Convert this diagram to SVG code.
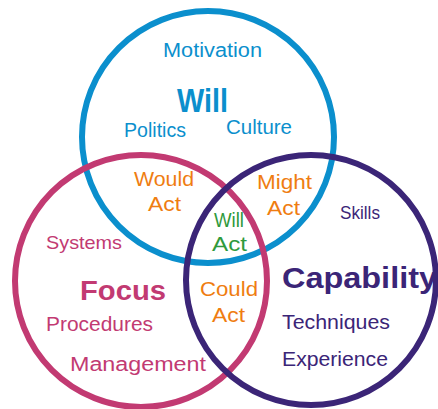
<svg xmlns="http://www.w3.org/2000/svg" width="438" height="409" viewBox="0 0 438 409">
<style>
.ring{fill:none;stroke-width:6}
.t{font-family:"Liberation Sans",Arial,sans-serif;font-size:20px}
.b{font-family:"Liberation Sans",Arial,sans-serif;font-weight:bold}
.blue{fill:#0b8fcd}.pink{fill:#c23a72}.purp{fill:#3b2577}.or{fill:#ef7d11}.gr{fill:#2f9a3c}
</style>
<rect width="438" height="409" fill="#fff"/>
<g id="connectors"/>
<g id="will-circle"><circle class="ring" cx="208" cy="137" r="126" stroke="#0b8fcd"/></g>
<g id="focus-circle"><circle class="ring" cx="141" cy="281" r="126" stroke="#c23a72"/></g>
<g id="capability-circle"><circle class="ring" cx="311" cy="280" r="125" stroke="#3b2577"/></g>
<g id="will">
<text class="t blue" x="163" y="57" textLength="99" lengthAdjust="spacingAndGlyphs">Motivation</text>
<text class="b blue" x="177" y="112" font-size="34" textLength="51" lengthAdjust="spacingAndGlyphs">Will</text>
<text class="t blue" x="124" y="137" textLength="62" lengthAdjust="spacingAndGlyphs">Politics</text>
<text class="t blue" x="226" y="134" textLength="66" lengthAdjust="spacingAndGlyphs">Culture</text>
</g>
<g id="would-act" class="t or">
<text x="134" y="186" textLength="60" lengthAdjust="spacingAndGlyphs" style="font-size:21px">Would</text>
<text x="148" y="211" textLength="33" lengthAdjust="spacingAndGlyphs" style="font-size:21px">Act</text>
</g>
<g id="might-act" class="t or">
<text x="257" y="189" textLength="55" lengthAdjust="spacingAndGlyphs">Might</text>
<text x="267" y="215" textLength="33" lengthAdjust="spacingAndGlyphs">Act</text>
</g>
<g id="will-act" class="t gr">
<text x="214" y="227" textLength="30" lengthAdjust="spacingAndGlyphs" style="font-size:20px">Will</text>
<text x="212" y="251" textLength="35" lengthAdjust="spacingAndGlyphs" style="font-size:20px">Act</text>
</g>
<g id="could-act" class="t or">
<text x="200" y="296" textLength="58" lengthAdjust="spacingAndGlyphs" style="font-size:21px">Could</text>
<text x="212" y="322" textLength="33" lengthAdjust="spacingAndGlyphs" style="font-size:21px">Act</text>
</g>
<g id="focus" class="pink">
<text class="t" x="46" y="249" textLength="76" lengthAdjust="spacingAndGlyphs" style="font-size:19px">Systems</text>
<text class="b" x="80" y="300" font-size="28" textLength="86" lengthAdjust="spacingAndGlyphs">Focus</text>
<text class="t" x="46" y="331" textLength="107" lengthAdjust="spacingAndGlyphs">Procedures</text>
<text class="t" x="70" y="371" textLength="136" lengthAdjust="spacingAndGlyphs">Management</text>
</g>
<g id="capability" class="purp">
<text class="t" x="340" y="219" textLength="40" lengthAdjust="spacingAndGlyphs" style="font-size:19px">Skills</text>
<text class="b" x="282" y="288" font-size="29" textLength="155" lengthAdjust="spacingAndGlyphs">Capability</text>
<text class="t" x="282" y="329" textLength="108" lengthAdjust="spacingAndGlyphs">Techniques</text>
<text class="t" x="282" y="366" textLength="106" lengthAdjust="spacingAndGlyphs">Experience</text>
</g>
</svg>
